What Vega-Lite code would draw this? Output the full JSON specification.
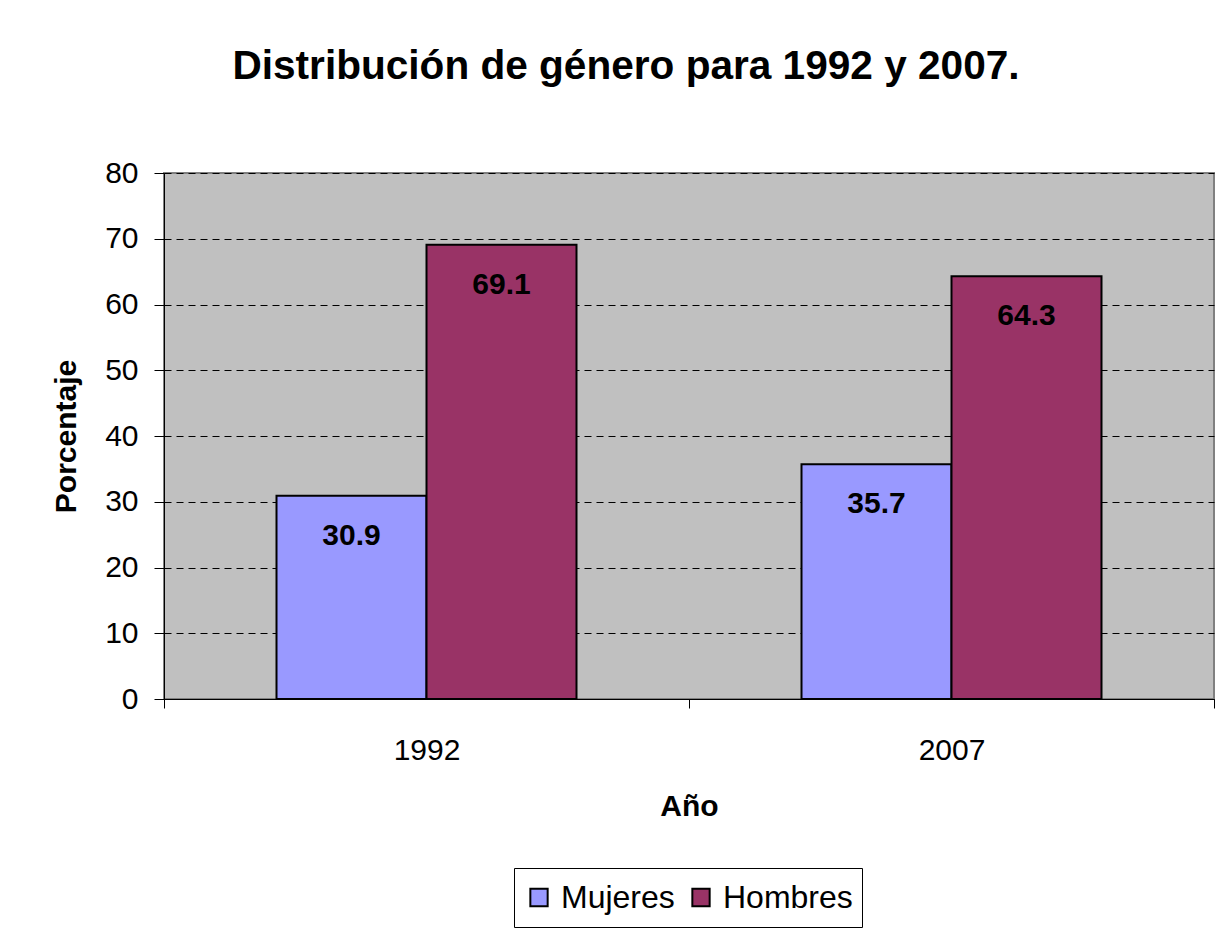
{
  "$schema": "https://vega.github.io/schema/vega-lite/v6.json",
  "autosize": "none",
  "width": 1050,
  "height": 526,
  "padding": {"left": 164, "top": 173, "right": 8, "bottom": 233},
  "background": "white",
  "title": {
    "text": "Distribución de género para 1992 y 2007.",
    "font": "Liberation Sans",
    "fontSize": 40.6,
    "fontWeight": "bold",
    "color": "black",
    "anchor": "middle",
    "dx": -63,
    "offset": 70
  },
  "data": {
    "values": [
      {"anio": "1992", "genero": "Mujeres", "porcentaje": 30.9},
      {"anio": "1992", "genero": "Hombres", "porcentaje": 69.1},
      {"anio": "2007", "genero": "Mujeres", "porcentaje": 35.7},
      {"anio": "2007", "genero": "Hombres", "porcentaje": 64.3}
    ]
  },
  "encoding": {
    "x": {
      "field": "anio",
      "type": "nominal",
      "title": "Año",
      "scale": {"paddingInner": 0, "paddingOuter": 0},
      "axis": {
        "labelAngle": 0,
        "labelFont": "Liberation Sans",
        "labelFontSize": 30,
        "labelColor": "black",
        "labelPadding": 27,
        "tickBand": "extent",
        "tickSize": 9,
        "tickColor": "black",
        "domainColor": "black",
        "titleFont": "Liberation Sans",
        "titleFontSize": 30,
        "titleFontWeight": "bold",
        "titleColor": "black",
        "titlePadding": 26
      }
    },
    "xOffset": {"field": "genero", "type": "nominal", "scale": {"domain": ["Mujeres", "Hombres"], "paddingInner": 0, "paddingOuter": 0.75}},
    "y": {
      "field": "porcentaje",
      "type": "quantitative",
      "title": "Porcentaje",
      "scale": {"domain": [0, 80], "nice": false},
      "axis": {
        "values": [0, 10, 20, 30, 40, 50, 60, 70, 80],
        "labelFont": "Liberation Sans",
        "labelFontSize": 30,
        "labelColor": "black",
        "labelPadding": 16,
        "tickSize": 10,
        "tickColor": "black",
        "domainColor": "black",
        "grid": true,
        "gridColor": "black",
        "gridDash": [7, 5],
        "gridWidth": 1,
        "titleFont": "Liberation Sans",
        "titleFontSize": 30,
        "titleFontWeight": "bold",
        "titleColor": "black",
        "titlePadding": 23
      }
    }
  },
  "layer": [
    {
      "mark": {"type": "bar", "stroke": "black", "strokeWidth": 2},
      "encoding": {
        "color": {
          "field": "genero",
          "type": "nominal",
          "title": null,
          "scale": {"domain": ["Mujeres", "Hombres"], "range": ["#9999FF", "#993366"]},
          "legend": {
            "orient": "none",
            "legendX": 350,
            "legendY": 695,
            "direction": "horizontal",
            "symbolType": "square",
            "symbolSize": 300,
            "symbolStrokeColor": "black",
            "symbolStrokeWidth": 2,
            "symbolOpacity": 1,
            "labelFont": "Liberation Sans",
            "labelFontSize": 32,
            "labelColor": "black",
            "labelOffset": 6,
            "columnPadding": 10,
            "padding": 9,
            "clipHeight": 41,
            "strokeColor": "black"
          }
        }
      }
    },
    {
      "mark": {"type": "text", "baseline": "top", "dy": 25, "font": "Liberation Sans", "fontSize": 30, "fontWeight": "bold", "color": "black"},
      "encoding": {
        "text": {"field": "porcentaje", "type": "quantitative", "format": ".1f"}
      }
    }
  ],
  "config": {
    "view": {"fill": "#C0C0C0", "stroke": "#808080", "strokeWidth": 2}
  }
}
